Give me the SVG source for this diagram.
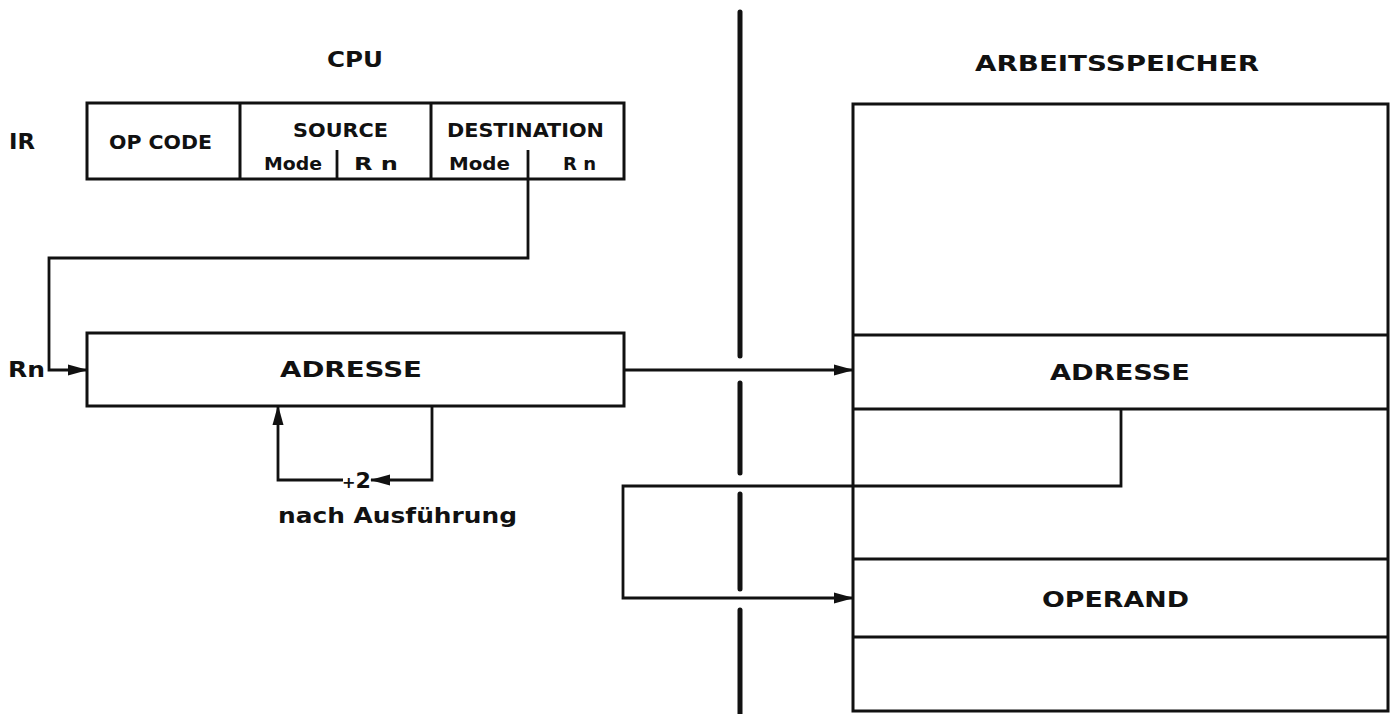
<svg xmlns="http://www.w3.org/2000/svg" width="1392" height="714" viewBox="0 0 1392 714">
<defs>
<marker id="ah" markerWidth="20" markerHeight="12" refX="19" refY="6" orient="auto" markerUnits="userSpaceOnUse"><path d="M0,0.5 L20,6 L0,11.5 Z" fill="#111"/></marker>
</defs>
<style>
.box{fill:none;stroke:#111;stroke-width:3}
.ln{fill:none;stroke:#111;stroke-width:2.8}
.t{font-family:"DejaVu Sans","Liberation Sans",sans-serif;font-weight:bold;font-size:22px;fill:#111}
.m{font-size:20px}
.s{font-size:18px}
.sep{stroke:#111;stroke-width:5;stroke-linecap:round}
</style>
<rect width="1392" height="714" fill="#fff"/>

<g id="titles">
<text class="t" x="327" y="67" textLength="56" lengthAdjust="spacingAndGlyphs">CPU</text>
<text class="t" x="975" y="71" textLength="284" lengthAdjust="spacingAndGlyphs">ARBEITSSPEICHER</text>
</g>

<g id="separator">
<line class="sep" x1="740" y1="12" x2="740" y2="356"/>
<line class="sep" x1="740" y1="383" x2="740" y2="473"/>
<line class="sep" x1="740" y1="494" x2="740" y2="589"/>
<line class="sep" x1="740" y1="610" x2="740" y2="714"/>
</g>

<g id="ir">
<text class="t" x="9" y="149" textLength="26" lengthAdjust="spacingAndGlyphs">IR</text>
<rect class="box" x="87" y="103" width="537" height="76"/>
<line class="box" x1="240" y1="103" x2="240" y2="179"/>
<line class="box" x1="431" y1="103" x2="431" y2="179"/>
<line class="ln" x1="337" y1="150" x2="337" y2="179"/>
<line class="ln" x1="528" y1="150" x2="528" y2="179"/>
<text class="t m" x="109" y="149" textLength="103" lengthAdjust="spacingAndGlyphs">OP CODE</text>
<text class="t m" x="293" y="137" textLength="95" lengthAdjust="spacingAndGlyphs">SOURCE</text>
<text class="t s" x="264" y="170" textLength="58" lengthAdjust="spacingAndGlyphs">Mode</text>
<text class="t s" x="354" y="170" textLength="44" lengthAdjust="spacingAndGlyphs">R n</text>
<text class="t m" x="447" y="137" textLength="157" lengthAdjust="spacingAndGlyphs">DESTINATION</text>
<text class="t s" x="449" y="170" textLength="61" lengthAdjust="spacingAndGlyphs">Mode</text>
<text class="t s" x="563" y="170" textLength="33" lengthAdjust="spacingAndGlyphs">R n</text>
</g>

<g id="cpu-adresse">
<rect class="box" x="87" y="333" width="537" height="73"/>
<text class="t" x="280" y="377" textLength="142" lengthAdjust="spacingAndGlyphs">ADRESSE</text>
</g>

<g id="memory">
<rect class="box" x="853" y="104" width="535" height="607"/>
<line class="box" x1="853" y1="335" x2="1388" y2="335"/>
<line class="box" x1="853" y1="409" x2="1388" y2="409"/>
<line class="box" x1="853" y1="559" x2="1388" y2="559"/>
<line class="box" x1="853" y1="637" x2="1388" y2="637"/>
<text class="t" x="1050" y="380" textLength="140" lengthAdjust="spacingAndGlyphs">ADRESSE</text>
<text class="t" x="1042" y="607" textLength="147" lengthAdjust="spacingAndGlyphs">OPERAND</text>
</g>

<g id="labels">
<text class="t" x="8" y="377" textLength="37" lengthAdjust="spacingAndGlyphs">Rn</text>
<text class="t" x="342" y="488" textLength="29" lengthAdjust="spacingAndGlyphs"><tspan style="font-size:16px">+</tspan>2</text>
<text class="t" x="278" y="523" textLength="239" lengthAdjust="spacingAndGlyphs">nach Ausführung</text>
</g>

<g id="connectors">
<path class="ln" d="M528,179 V258 H49 V370 H87" marker-end="url(#ah)"/>
<path class="ln" d="M624,370 H853" marker-end="url(#ah)"/>
<path class="ln" d="M1121,409 V486 H623 V598 H853" marker-end="url(#ah)"/>
<path class="ln" d="M432,406 V480 H371" marker-end="url(#ah)"/>
<path class="ln" d="M343,480 H278 V406" marker-end="url(#ah)"/>
</g>
</svg>
